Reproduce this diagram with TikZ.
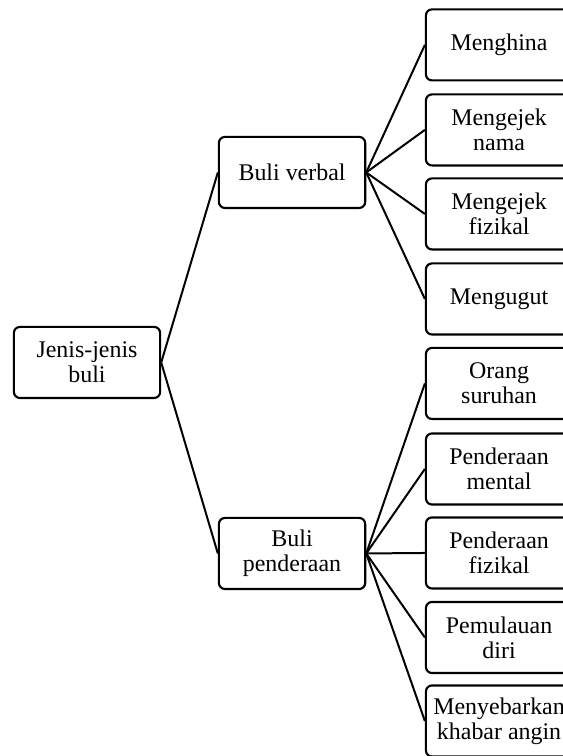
\documentclass[tikz,border=0pt]{standalone}
\usepackage{fontspec}
\setmainfont{Liberation Serif}
\usetikzlibrary{shapes}

\tikzset{
  box/.style={shape=rectangle,rounded corners=0.16cm,draw=black,align=center,line width=1.6pt,minimum width=3.87cm,minimum height=1.88cm,inner sep=1pt,font=\fontsize{18}{19}\selectfont},
  link/.style={-,draw=black,line width=1.5pt}
}

\begin{document}
\begin{tikzpicture}
\useasboundingbox (0,0) rectangle (14.87,20.0);
\node[box] (0) at (2.302,10.411) {Jenis-jenis\\buli};
\node[box] (1) at (7.726,15.438) {Buli verbal};
\node[box] (2) at (7.726,5.358) {Buli\\penderaan};
\node[box] (3) at (13.203,18.812) {Menghina};
\node[box] (4) at (13.203,16.563) {Mengejek\\nama};
\node[box] (5) at (13.203,14.340) {Mengejek\\fizikal};
\node[box] (6) at (13.203,12.091) {Mengugut};
\node[box] (7) at (13.203,9.856) {Orang\\suruhan};
\node[box] (8) at (13.203,7.593) {Penderaan\\mental};
\node[box] (9) at (13.203,5.371) {Penderaan\\fizikal};
\node[box] (10) at (13.203,3.135) {Pemulauan\\diri};
\node[box] (11) at (13.203,0.926) {Menyebarkan\\khabar angin};

\path [link] (0.east) edge node {} (1.west);
\path [link] (0.east) edge node {} (2.west);
\path [link] (1.east) edge node {} (3.west);
\path [link] (1.east) edge node {} (4.west);
\path [link] (1.east) edge node {} (5.west);
\path [link] (1.east) edge node {} (6.west);
\path [link] (2.east) edge node {} (7.west);
\path [link] (2.east) edge node {} (8.west);
\path [link] (2.east) edge node {} (9.west);
\path [link] (2.east) edge node {} (10.west);
\path [link] (2.east) edge node {} (11.west);
\end{tikzpicture}
\end{document}
